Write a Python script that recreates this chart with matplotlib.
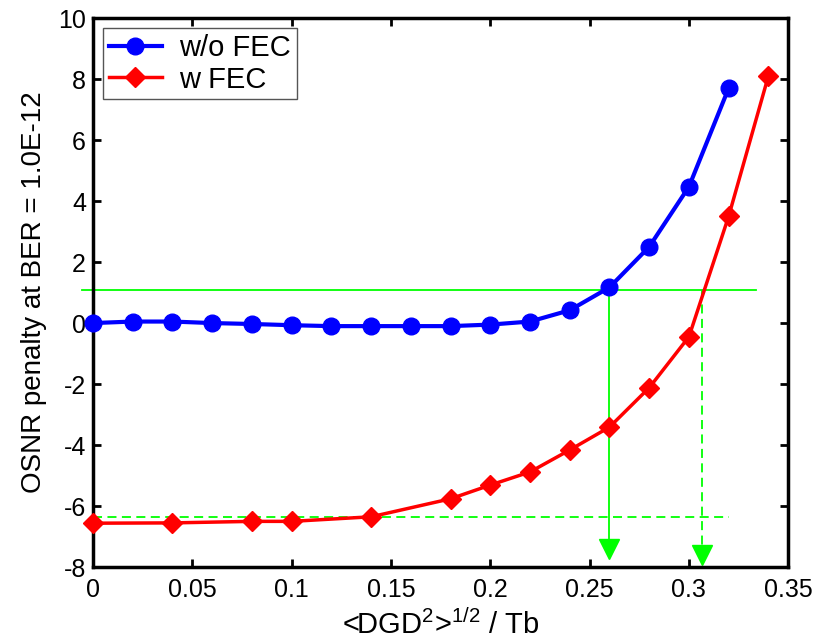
import numpy as np
import matplotlib
matplotlib.use("Agg")
import matplotlib.pyplot as plt

plt.rcParams['font.family'] = ['Liberation Sans', 'DejaVu Sans']
plt.rcParams['axes.unicode_minus'] = False
plt.rcParams['mathtext.default'] = 'regular'

# data
x_nofec = [0.0, 0.02, 0.04, 0.06, 0.08, 0.10, 0.12, 0.14, 0.16,
           0.18, 0.20, 0.22, 0.24, 0.26, 0.28, 0.30, 0.32]
y_nofec = [0.0, 0.05, 0.05, 0.0, -0.03, -0.07, -0.1, -0.1, -0.1,
           -0.1, -0.05, 0.05, 0.42, 1.17, 2.5, 4.47, 7.7]

x_fec = [0.0, 0.04, 0.08, 0.10, 0.14, 0.18, 0.20, 0.22, 0.24,
         0.26, 0.28, 0.30, 0.32, 0.34]
y_fec = [-6.56, -6.55, -6.5, -6.5, -6.35, -5.76, -5.31, -4.88, -4.16,
         -3.41, -2.12, -0.45, 3.5, 8.1]

ref_level = 1.1        # solid green threshold
fec_level = -6.37      # dashed green level
x_cross_nofec = 0.26
x_cross_fec = 0.3067

xticks = [0, 0.05, 0.1, 0.15, 0.2, 0.25, 0.3, 0.35]
xtick_labels = ['0', '0.05', '0.1', '0.15', '0.2', '0.25', '0.3', '0.35']
yticks = [-8, -6, -4, -2, 0, 2, 4, 6, 8, 10]

fig = plt.figure(figsize=(8.16, 6.43), dpi=100)
ax = fig.add_axes([0.114, 0.118, 0.852, 0.854])

green = '#00ff00'
# green guide lines
ax.plot([-0.0055, 0.334], [ref_level, ref_level], color=green, lw=1.3, clip_on=False)
ax.plot([x_cross_nofec, x_cross_nofec], [ref_level, -7.4], color=green, lw=1.3)
ax.plot([x_cross_nofec], [-7.42], marker='v', color=green, ms=15, clip_on=False)
ax.plot([0, 0.32], [fec_level, fec_level], color=green, lw=1.3, ls=(0, (5, 3)))
ax.plot([x_cross_fec, x_cross_fec], [ref_level, -7.6], color=green, lw=1.3, ls=(0, (5, 3)))
ax.plot([x_cross_fec], [-7.6], marker='v', color=green, ms=15, clip_on=False)

ax.plot(x_nofec, y_nofec, color='blue', lw=3, marker='o', ms=12,
        label='w/o FEC', clip_on=False, zorder=4)
ax.plot(x_fec, y_fec, color='red', lw=2.5, marker='D', ms=10,
        label='w FEC', clip_on=False, zorder=4)

ax.set_xlim(0, 0.35)
ax.set_ylim(-8, 10)
ax.set_xticks(xticks)
ax.set_xticklabels(xtick_labels)
ax.set_yticks(yticks)
ax.tick_params(direction='in', top=True, right=True, length=6, width=2,
               labelsize=18)
ax.tick_params(axis='x', pad=8)
ax.tick_params(axis='y', pad=5)
for s in ax.spines.values():
    s.set_linewidth(2.5)

ax.set_xlabel(r'<DGD$^{2}$>$^{1/2}$ / Tb', fontsize=21, labelpad=5)
ax.set_ylabel('OSNR penalty at BER = 1.0E-12', fontsize=20, labelpad=8)

leg = ax.legend(loc='upper left', fontsize=21, fancybox=False, framealpha=1,
                edgecolor='#555555', borderaxespad=0.35, handlelength=1.8,
                handletextpad=0.6, labelspacing=0.12, borderpad=0.2)
leg.get_frame().set_linewidth(1)

fig.savefig('out.png', dpi=100)
